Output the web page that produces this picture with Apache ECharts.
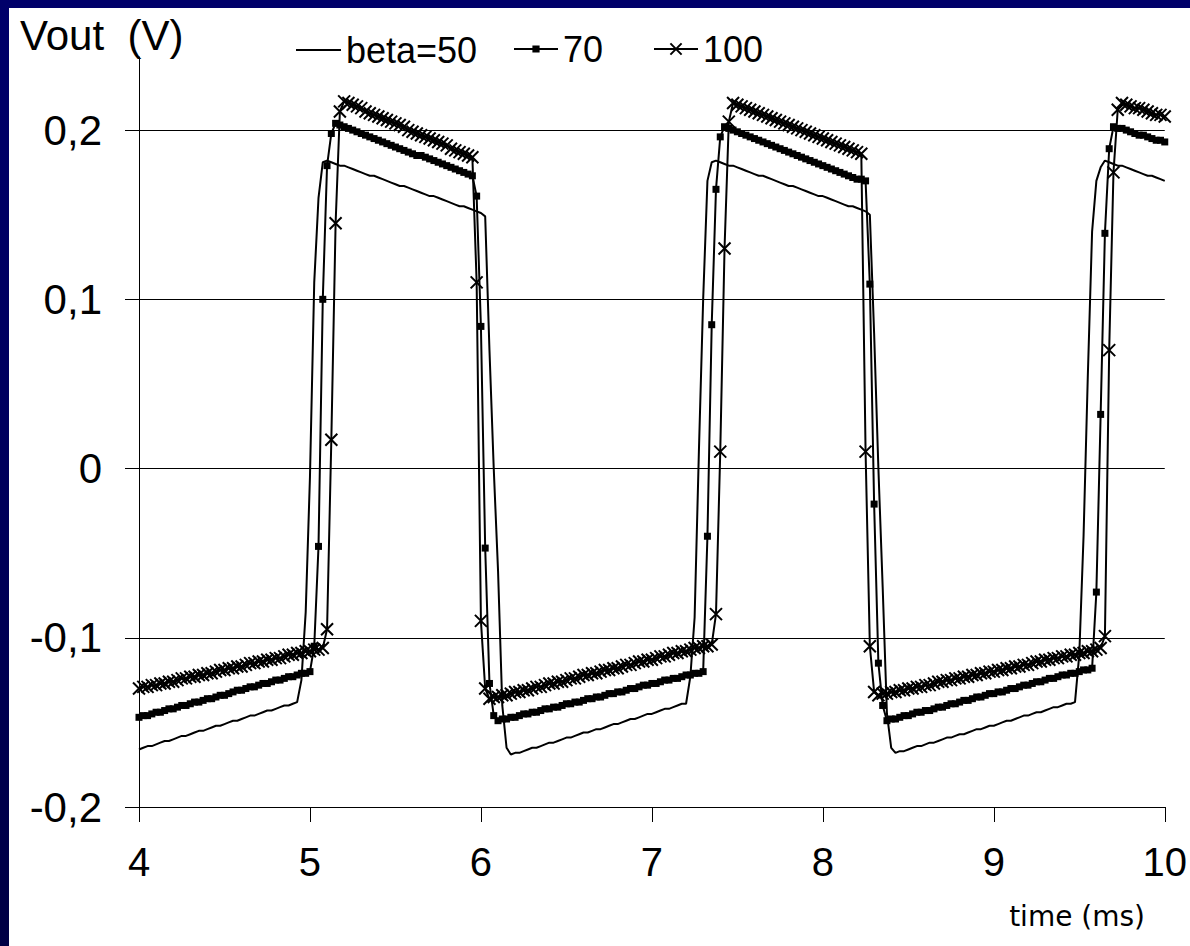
<!DOCTYPE html>
<html><head><meta charset="utf-8">
<script src="https://cdn.jsdelivr.net/npm/echarts@6/dist/echarts.min.js"></script>
<style>
html,body{margin:0;padding:0;overflow:hidden;width:1190px;height:946px;
  background:linear-gradient(180deg,#00006a 0%,#00005e 45%,#000044 100%);}
#paper{position:absolute;left:9px;top:8px;width:1181px;height:938px;background:#fff;}
#c{position:absolute;left:0;top:0;width:1190px;height:946px;}
</style></head>
<body><div id="paper"></div><div id="c"></div>
<script>
// ---- data ----
const T_START = 4;      // ms, first sample
const T_STEP = 0.025;   // ms, sampling step
const xTicks = [4, 5, 6, 7, 8, 9, 10];
const yTicks = [-0.2, -0.1, 0, 0.1, 0.2];
const seriesNames = ['beta=50', '70', '100'];

const beta50 = [
  -0.166,-0.165,-0.164,-0.164,-0.163,-0.162,-0.161,-0.161,-0.160,-0.159,
  -0.158,-0.158,-0.157,-0.156,-0.155,-0.155,-0.154,-0.153,-0.152,-0.152,
  -0.151,-0.150,-0.149,-0.149,-0.148,-0.147,-0.146,-0.146,-0.145,-0.144,
  -0.143,-0.143,-0.142,-0.141,-0.140,-0.140,-0.139,-0.138,
  -0.125,-0.085,-0.005,0.110,0.160,0.181,
  0.182,0.181,0.180,0.179,0.179,0.178,0.177,0.176,0.175,0.174,
  0.173,0.173,0.172,0.171,0.170,0.169,0.168,0.167,0.167,0.166,
  0.165,0.164,0.163,0.162,0.161,0.161,0.160,0.159,0.158,0.157,
  0.156,0.155,0.155,0.154,0.153,0.152,0.151,
  0.149,0.070,0.000,-0.060,-0.140,-0.165,
  -0.169,-0.168,-0.168,-0.167,-0.166,-0.165,-0.165,-0.164,-0.163,-0.162,
  -0.162,-0.161,-0.160,-0.159,-0.159,-0.158,-0.157,-0.156,-0.156,-0.155,
  -0.154,-0.154,-0.153,-0.152,-0.151,-0.151,-0.150,-0.149,-0.148,-0.148,
  -0.147,-0.146,-0.145,-0.145,-0.144,-0.143,-0.142,-0.142,-0.141,-0.140,
  -0.139,-0.139,
  -0.123,-0.088,0.010,0.100,0.170,0.181,
  0.182,0.181,0.180,0.179,0.179,0.178,0.177,0.176,0.175,0.174,
  0.173,0.173,0.172,0.171,0.170,0.169,0.168,0.167,0.167,0.166,
  0.165,0.164,0.163,0.162,0.161,0.161,0.160,0.159,0.158,0.157,
  0.156,0.155,0.155,0.154,0.153,0.152,
  0.150,0.080,0.000,-0.070,-0.145,-0.165,
  -0.168,-0.167,-0.167,-0.166,-0.165,-0.164,-0.164,-0.163,-0.162,-0.162,
  -0.161,-0.160,-0.159,-0.159,-0.158,-0.157,-0.157,-0.156,-0.155,-0.154,
  -0.154,-0.153,-0.152,-0.152,-0.151,-0.150,-0.149,-0.149,-0.148,-0.147,
  -0.146,-0.146,-0.145,-0.144,-0.144,-0.143,-0.142,-0.141,-0.141,-0.140,
  -0.139,-0.139,-0.138,
  -0.110,-0.040,0.055,0.140,0.170,0.178,
  0.182,0.181,0.180,0.179,0.179,0.178,0.177,0.176,0.175,0.174,
  0.173,0.173,0.172,0.171,0.170
];

const beta70 = [
  -0.147,-0.146,-0.146,-0.145,-0.144,-0.144,-0.143,-0.142,-0.142,-0.141,
  -0.140,-0.140,-0.139,-0.138,-0.138,-0.137,-0.136,-0.136,-0.135,-0.134,
  -0.134,-0.133,-0.132,-0.131,-0.131,-0.130,-0.129,-0.129,-0.128,-0.127,
  -0.127,-0.126,-0.125,-0.125,-0.124,-0.123,-0.123,-0.122,-0.121,-0.121,
  -0.120,
  -0.105,-0.046,0.100,0.179,0.198,
  0.204,0.203,0.202,0.201,0.200,0.199,0.198,0.197,0.196,0.195,
  0.194,0.193,0.192,0.191,0.190,0.189,0.188,0.187,0.186,0.185,
  0.185,0.184,0.183,0.182,0.181,0.180,0.179,0.178,0.177,0.176,
  0.175,0.174,0.173,
  0.161,0.084,-0.047,-0.127,-0.146,
  -0.149,-0.148,-0.148,-0.147,-0.147,-0.146,-0.145,-0.145,-0.144,-0.144,
  -0.143,-0.142,-0.142,-0.141,-0.141,-0.140,-0.139,-0.139,-0.138,-0.138,
  -0.137,-0.136,-0.136,-0.135,-0.135,-0.134,-0.133,-0.133,-0.132,-0.132,
  -0.131,-0.130,-0.130,-0.129,-0.128,-0.128,-0.127,-0.127,-0.126,-0.125,
  -0.125,-0.124,-0.124,-0.123,-0.122,-0.122,-0.121,-0.121,-0.120,
  -0.040,0.085,0.165,0.196,
  0.202,0.201,0.200,0.199,0.198,0.197,0.196,0.195,0.194,0.193,
  0.192,0.191,0.190,0.189,0.188,0.187,0.186,0.185,0.184,0.183,
  0.182,0.181,0.180,0.179,0.178,0.177,0.176,0.175,0.174,0.173,
  0.172,0.171,0.171,0.170,
  0.109,-0.021,-0.115,-0.140,
  -0.149,-0.148,-0.148,-0.147,-0.146,-0.146,-0.145,-0.144,-0.144,-0.143,
  -0.143,-0.142,-0.141,-0.141,-0.140,-0.139,-0.139,-0.138,-0.137,-0.137,
  -0.136,-0.135,-0.135,-0.134,-0.133,-0.133,-0.132,-0.132,-0.131,-0.130,
  -0.130,-0.129,-0.128,-0.128,-0.127,-0.126,-0.126,-0.125,-0.124,-0.124,
  -0.123,-0.122,-0.122,-0.121,-0.121,-0.120,-0.119,-0.119,-0.118,
  -0.073,0.032,0.139,0.189,
  0.202,0.201,0.201,0.200,0.199,0.198,0.197,0.197,0.196,0.195,
  0.194,0.194,0.193
];

const beta100 = [
  -0.130,-0.129,-0.129,-0.128,-0.128,-0.127,-0.127,-0.126,-0.126,-0.125,
  -0.124,-0.124,-0.123,-0.123,-0.122,-0.122,-0.121,-0.121,-0.120,-0.119,
  -0.119,-0.118,-0.118,-0.117,-0.117,-0.116,-0.115,-0.115,-0.114,-0.114,
  -0.113,-0.113,-0.112,-0.112,-0.111,-0.110,-0.110,-0.109,-0.109,-0.108,
  -0.108,-0.107,-0.107,-0.106,
  -0.095,0.017,0.145,0.211,
  0.217,0.216,0.215,0.214,0.213,0.211,0.210,0.209,0.208,0.207,
  0.206,0.205,0.204,0.203,0.202,0.200,0.199,0.198,0.197,0.196,
  0.195,0.194,0.193,0.192,0.191,0.189,0.188,0.187,0.186,0.185,
  0.184,
  0.110,-0.090,-0.130,
  -0.136,-0.135,-0.135,-0.134,-0.134,-0.133,-0.132,-0.132,-0.131,-0.131,
  -0.130,-0.129,-0.129,-0.128,-0.127,-0.127,-0.126,-0.126,-0.125,-0.124,
  -0.124,-0.123,-0.122,-0.122,-0.121,-0.121,-0.120,-0.119,-0.119,-0.118,
  -0.118,-0.117,-0.116,-0.116,-0.115,-0.114,-0.114,-0.113,-0.113,-0.112,
  -0.111,-0.111,-0.110,-0.109,-0.109,-0.108,-0.108,-0.107,-0.106,-0.106,
  -0.105,-0.105,-0.104,
  -0.086,0.010,0.130,0.205,
  0.216,0.215,0.214,0.213,0.212,0.211,0.210,0.209,0.208,0.207,
  0.206,0.205,0.204,0.203,0.202,0.201,0.200,0.199,0.198,0.197,
  0.196,0.195,0.194,0.193,0.192,0.191,0.190,0.189,0.188,0.187,
  0.186,
  0.010,-0.105,-0.132,
  -0.134,-0.133,-0.133,-0.132,-0.132,-0.131,-0.131,-0.130,-0.130,-0.129,
  -0.129,-0.128,-0.128,-0.127,-0.126,-0.126,-0.125,-0.125,-0.124,-0.124,
  -0.123,-0.123,-0.122,-0.122,-0.121,-0.121,-0.120,-0.120,-0.119,-0.119,
  -0.118,-0.118,-0.117,-0.117,-0.116,-0.116,-0.115,-0.114,-0.114,-0.113,
  -0.113,-0.112,-0.112,-0.111,-0.111,-0.110,-0.110,-0.109,-0.109,-0.108,
  -0.108,-0.107,-0.106,
  -0.099,0.070,0.175,0.212,
  0.216,0.215,0.214,0.213,0.213,0.212,0.211,0.210,0.209,0.209,
  0.208
];

// ---- build ----
const timeOf = i => Math.round((T_START + i * T_STEP) * 1000) / 1000;
const pairs = arr => arr.map((v, i) => [timeOf(i), v]);
const fmtY = v => (Math.abs(v) < 1e-9 ? '0' : v.toFixed(1).replace('.', ','));

const SANS = '"Liberation Sans", Arial, sans-serif';
const LEG_TOP = 31;
const legendText = { fontSize: 36, fontFamily: SANS, color: '#000' };

const chart = echarts.init(document.getElementById('c'), null, { renderer: 'svg' });
chart.setOption({
  animation: false,
  backgroundColor: 'transparent',
  grid: { left: 139, right: 22, top: 57, bottom: 139 },
  legend: [
    { data: [{ name: seriesNames[0], icon: 'rect' }], left: 296, top: LEG_TOP + 1, padding: 0,
      itemWidth: 45, itemHeight: 2, selectedMode: false, textStyle: legendText },
    { data: [seriesNames[1]], left: 513, top: LEG_TOP, padding: 0, itemWidth: 44, itemHeight: 9,
      selectedMode: false, textStyle: legendText },
    { data: [seriesNames[2]], left: 653, top: LEG_TOP, padding: 0, itemWidth: 44, itemHeight: 14,
      selectedMode: false, textStyle: legendText }
  ],
  xAxis: {
    type: 'value', min: xTicks[0], max: xTicks[xTicks.length - 1], interval: 1,
    axisLine: { onZero: false, lineStyle: { color: '#000', width: 1 } },
    axisTick: { length: 15, lineStyle: { color: '#000', width: 1 } },
    axisLabel: { margin: 35, fontSize: 40, fontFamily: SANS, color: '#000' },
    splitLine: { show: false }
  },
  yAxis: {
    type: 'value', min: -0.2, max: 0.2432,
    axisLine: { show: true, lineStyle: { color: '#000', width: 1 } },
    axisTick: { show: true, length: 14, customValues: yTicks, lineStyle: { color: '#000', width: 1 } },
    axisLabel: { customValues: yTicks, margin: 37, fontSize: 42, fontFamily: SANS, color: '#000',
      formatter: fmtY },
    splitLine: { show: true, lineStyle: { color: '#000', width: 1 } }
  },
  graphic: [
    { type: 'text', left: 20, top: 14, silent: true,
      style: { text: 'Vout  (V)', font: '42px ' + SANS, fill: '#000' } },
    { type: 'text', right: 45, top: 902, silent: true,
      style: { text: 'time (ms)', font: '28px "DejaVu Sans", Verdana, sans-serif', fill: '#000' } }
  ],
  series: [
    { name: seriesNames[0], type: 'line', data: pairs(beta50), symbol: 'none',
      lineStyle: { color: '#000', width: 2 }, itemStyle: { color: '#000' } },
    { name: seriesNames[1], type: 'line', data: pairs(beta70), symbol: 'rect', symbolSize: 7,
      showSymbol: true, lineStyle: { color: '#000', width: 2 },
      itemStyle: { color: '#000', borderWidth: 0 } },
    { name: seriesNames[2], type: 'line', data: pairs(beta100),
      symbol: 'path://M0,0L10,10M10,0L0,10', symbolSize: 12, showSymbol: true,
      lineStyle: { color: '#000', width: 2 },
      itemStyle: { color: '#000', borderColor: '#000', borderWidth: 2 } }
  ]
});
</script>
</body></html>
